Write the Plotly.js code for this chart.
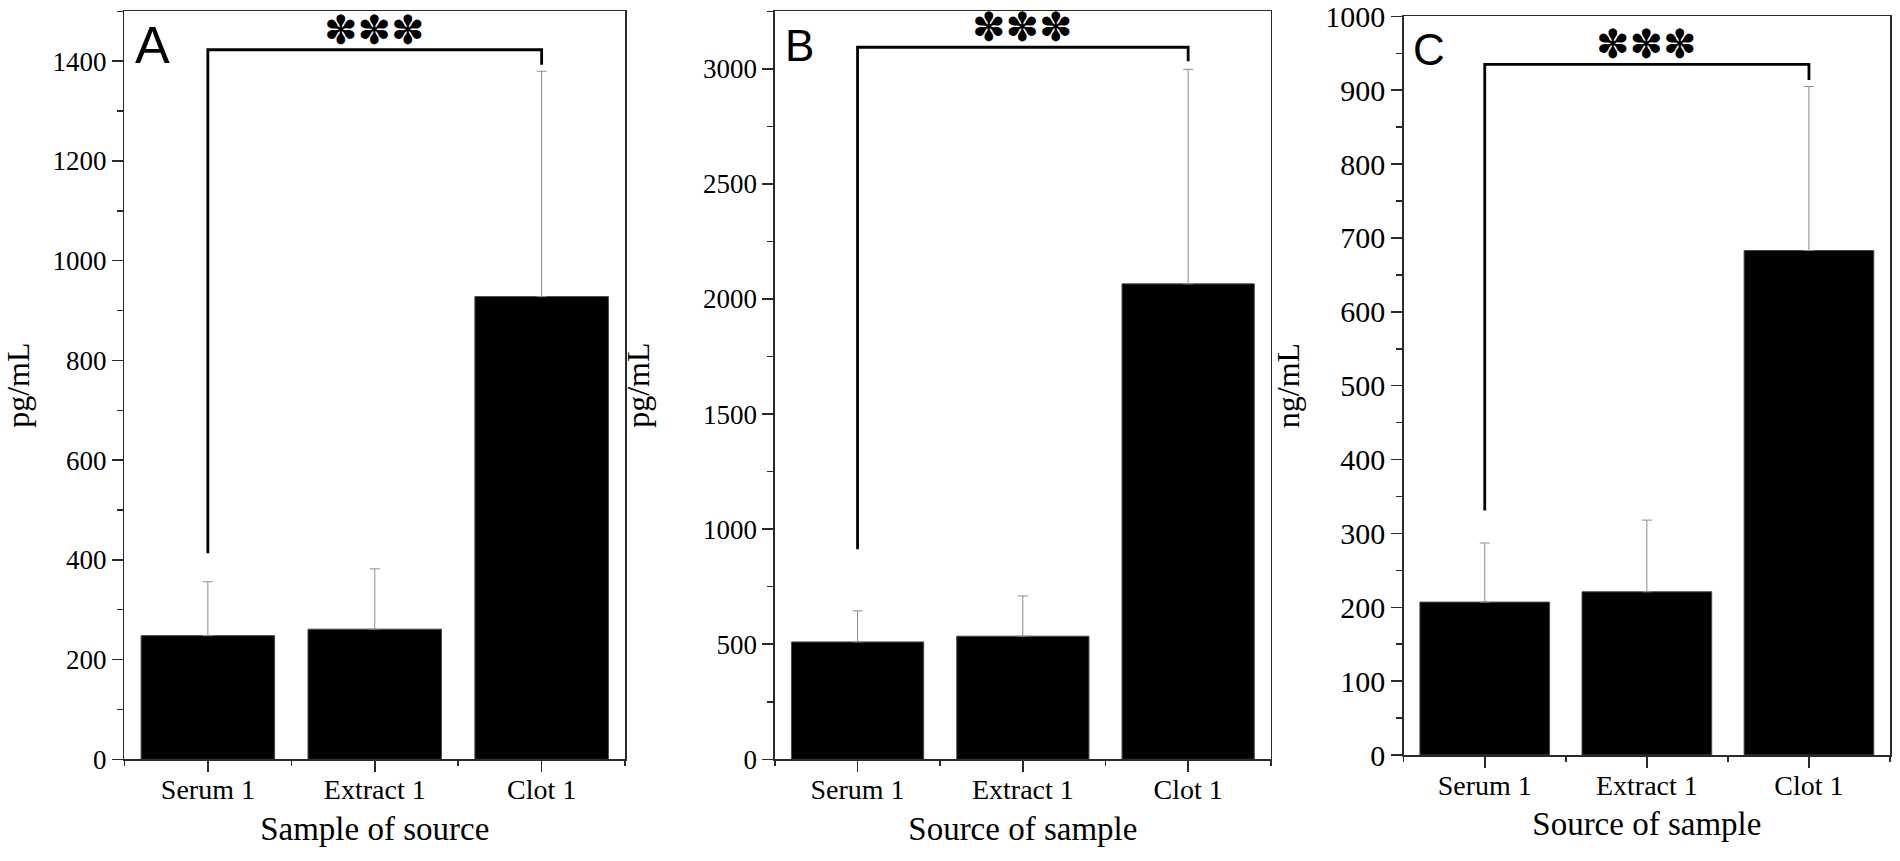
<!DOCTYPE html>
<html><head><meta charset="utf-8">
<script src="https://cdn.plot.ly/plotly-3.0.1.min.js"></script>
<style>html,body{margin:0;padding:0;background:#fff;} #chart{width:1900px;height:861px;}</style>
</head><body><div id="chart"></div>
<script>
// ---- data ----
const categories = ["Serum 1", "Extract 1", "Clot 1"];
const panelLetters = ["A", "B", "C"];
const xTitles = ["Sample of source", "Source of sample", "Source of sample"];
const yTitles = ["pg/mL", "pg/mL", "ng/mL"];
const meansA = [248, 261, 928];
const errA = [108, 121, 452];
const meansB = [510, 535, 2066];
const errB = [135, 175, 932];
const meansC = [207, 221, 683];
const errC = [80, 97, 222];
const bracketTop = [1423, 3094, 935];
const bracketLeftEnd = [413, 913, 331];
const bracketRightEnd = [1393, 3033, 914];
const significance = ["✽✽✽", "✽✽✽", "✽✽✽"];
const yMax = [1500, 3250, 1000];
const yMajor = [200, 500, 100];
const yMinor = [100, 250, 50];

// ---- layout helpers ----
const W = 1900, H = 861;
const serif = "'Liberation Serif', 'Times New Roman', serif";
const sans = "'Liberation Sans', Arial, sans-serif";
const means = [meansA, meansB, meansC];
const errs = [errA, errB, errC];
const xPos = categories.map((c, i) => i);
// plot boxes in pixels [left, right, top, bottom]
const boxes = [[124.4, 625.1, 11, 759.3], [774.9, 1270.8, 11, 759.3], [1403.7, 1890, 16, 755]];
const yTickFont = [27, 27, 30];
const yStandoff = [20, 44, 16];
const letterX = [133, 782.5, 1411];
const letterTop = [14.5, 18.5, 23];
const letterSize = [52, 44, 44];

const data = [];
const layout = {
  width: W, height: H, margin: {l: 0, r: 0, t: 0, b: 0},
  paper_bgcolor: "#fff", plot_bgcolor: "#fff", showlegend: false,
  annotations: []
};
const axColor = "#2a2a2a";

for (let p = 0; p < 3; p++) {
  const sfx = p === 0 ? "" : String(p + 1);
  const xa = "x" + sfx, ya = "y" + sfx;
  data.push({
    type: "bar", x: xPos, y: means[p], xaxis: xa, yaxis: ya, width: 0.8,
    marker: {color: "#000", line: {color: "#4a4a4a", width: 1}},
    error_y: {type: "data", symmetric: false, array: errs[p], arrayminus: means[p].map(() => 0),
              color: "#8c8c8c", thickness: 1, width: 5},
    hoverinfo: "skip"
  });
  data.push({
    type: "scatter", mode: "lines", xaxis: xa, yaxis: ya,
    x: [xPos[0], xPos[0], xPos[2], xPos[2]],
    y: [bracketLeftEnd[p], bracketTop[p], bracketTop[p], bracketRightEnd[p]],
    line: {color: "#000", width: 2.8}, hoverinfo: "skip"
  });
  const b = boxes[p];
  layout["xaxis" + sfx] = {
    domain: [b[0] / W, b[1] / W], anchor: ya, range: [-0.5, 2.5],
    tickvals: xPos, ticktext: categories, ticks: "outside", ticklen: 11, tickwidth: 1.5, tickcolor: axColor,
    minor: {tick0: 0.5, dtick: 1, ticks: "outside", ticklen: 5, tickwidth: 1.5, tickcolor: axColor},
    showline: true, linecolor: axColor, linewidth: 1.5, mirror: true, showgrid: false, zeroline: false,
    tickfont: {family: serif, size: 28, color: "#000"}, ticklabelstandoff: -6,
    title: {text: xTitles[p], font: {family: serif, size: 33, color: "#000"}, standoff: 12},
    fixedrange: true
  };
  layout["yaxis" + sfx] = {
    domain: [(H - b[3]) / H, (H - b[2]) / H], anchor: xa, range: [0, yMax[p] * 1.0005],
    tick0: 0, dtick: yMajor[p], ticks: "outside", ticklen: 11, tickwidth: 1.5, tickcolor: axColor,
    minor: {dtick: yMinor[p], ticks: "outside", ticklen: 6, tickwidth: 1.5, tickcolor: axColor},
    showline: true, linecolor: axColor, linewidth: 1.5, mirror: true, showgrid: false, zeroline: false,
    tickfont: {family: serif, size: yTickFont[p], color: "#000"}, ticklabeloverflow: "allow",
    title: {text: yTitles[p], font: {family: serif, size: 32, color: "#000"}, standoff: yStandoff[p]},
    fixedrange: true
  };
  layout.annotations.push({
    xref: xa, yref: ya, x: (xPos[0] + xPos[2]) / 2, y: bracketTop[p],
    text: significance[p], showarrow: false, xanchor: "center", yanchor: "middle", yshift: 20,
    font: {family: "'DejaVu Sans', sans-serif", size: 40, color: "#000"}
  });
  layout.annotations.push({
    xref: "paper", yref: "paper", x: letterX[p] / W, y: (H - letterTop[p]) / H,
    text: panelLetters[p], showarrow: false, xanchor: "left", yanchor: "top",
    font: {family: sans, size: letterSize[p], color: "#000"}
  });
}

Plotly.newPlot("chart", data, layout, {displayModeBar: false, staticPlot: true});
</script>
</body></html>
